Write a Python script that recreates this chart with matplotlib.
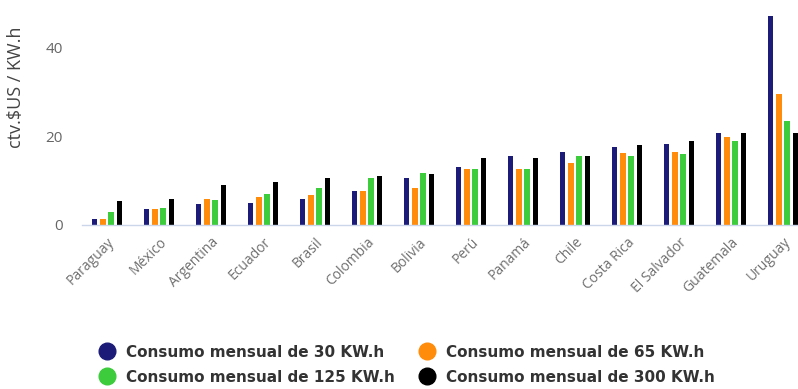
import matplotlib
matplotlib.use('Agg')
import matplotlib.pyplot as plt
import numpy as np
from matplotlib.lines import Line2D

countries = ["Paraguay", "México", "Argentina", "Ecuador", "Brasil", "Colombia", "Bolivia",
             "Perú", "Panamá", "Chile", "Costa Rica", "El Salvador", "Guatemala", "Uruguay"]
kwh_30 = [1.4, 3.5, 4.7, 5.0, 5.8, 7.6, 10.5, 13.1, 15.6, 16.5, 17.6, 18.2, 20.8, 47.0]
kwh_65 = [1.4, 3.5, 5.8, 6.3, 6.7, 7.6, 8.4, 12.5, 12.7, 13.9, 16.2, 16.5, 19.7, 29.4]
kwh_125 = [3.0, 3.9, 5.6, 7.0, 8.4, 10.5, 11.8, 12.5, 12.7, 15.6, 15.5, 16.0, 18.8, 23.4]
kwh_300 = [5.4, 5.8, 9.0, 9.7, 10.5, 11.1, 11.4, 15.1, 15.1, 15.6, 18.0, 18.8, 20.6, 20.8]
series_labels = ["Consumo mensual de 30 KW.h", "Consumo mensual de 65 KW.h",
                 "Consumo mensual de 125 KW.h", "Consumo mensual de 300 KW.h"]
colors = ["#1c1c78", "#ff8c0a", "#3ccc3c", "#000000"]

fig = plt.figure(figsize=(7.98, 3.89), dpi=100)
ax = fig.add_axes([0.1028, 0.4216, 0.8972, 0.5784])

x = np.arange(len(countries))
pitch, width = 0.16, 0.11
series = [kwh_30, kwh_65, kwh_125, kwh_300]
for k, (vals, c) in enumerate(zip(series, colors)):
    ax.bar(x + (k - 1.5) * pitch, vals, width=width, color=c, zorder=2)

ax.set_xlim(-0.48, 13.29)
ax.set_ylim(0, 50.6)
ax.set_yticks([0, 20, 40])
for s in ["top", "right", "left"]:
    ax.spines[s].set_visible(False)
ax.spines["bottom"].set_color("#ccd6eb")
ax.spines["bottom"].set_linewidth(1)
ax.tick_params(axis="y", length=0, labelsize=11, labelcolor="#666666", pad=14)
ax.tick_params(axis="x", length=0, labelsize=10, labelcolor="#707070", pad=7)
ax.set_xticks(x)
ax.set_xticklabels(countries, rotation=45, ha="right", rotation_mode="anchor", family="Open Sans")
for t in ax.get_yticklabels():
    t.set_family("Open Sans")
ax.set_ylabel("ctv.$US / KW.h", fontsize=13, color="#444444", family="Open Sans")
ax.yaxis.set_label_coords(-0.08, 0.61)

# legend is filled row by row in the reference: reorder for matplotlib's column-major fill
order = [0, 2, 1, 3]
handles = [Line2D([], [], marker="o", linestyle="", markersize=12, color=colors[i]) for i in order]
labels = [series_labels[i] for i in order]
leg = fig.legend(handles, labels, ncol=2, loc="upper left", bbox_to_anchor=(0.115, 0.134),
                 frameon=False, prop={"size": 11, "weight": "bold"}, handletextpad=0.75,
                 columnspacing=1.6, labelspacing=0.66, handlelength=1.0, borderpad=0)
for t in leg.get_texts():
    t.set_color("#333333")

fig.savefig("out.png", dpi=100)
